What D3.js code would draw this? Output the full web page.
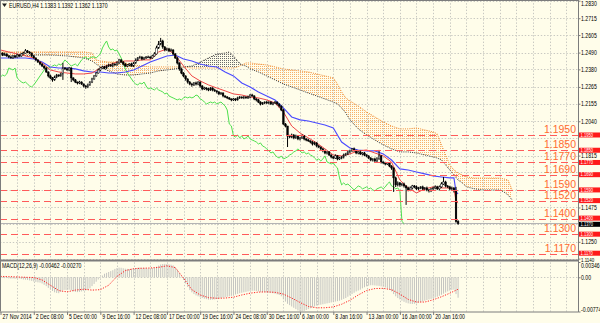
<!DOCTYPE html>
<html>
<head>
<meta charset="utf-8">
<script src="https://cdn.jsdelivr.net/npm/d3@7"></script>
<style>
  html, body { margin: 0; padding: 0; background: #fffdea; }
  svg { display: block; }
  .sm { font-family: "Liberation Sans", Arial, sans-serif; font-size: 6.3px; fill: #000; }
</style>
</head>
<body>
<svg id="chart" width="600" height="323"></svg>
<script>
// EURUSD H4 closes, one per bar (27 Nov 16:00 .. 22 Jan 16:00)
const closes = [
  1.2487,1.2474,1.2481,1.2468,1.2461,1.2455,1.2468,1.2461,1.2474,1.2468,
  1.2481,1.2487,1.2501,1.2494,1.2487,1.2468,1.2455,1.2442,1.2428,1.2415,
  1.2402,1.2389,1.2363,1.2337,1.2324,1.2311,1.2330,1.2343,1.2337,1.2350,
  1.2389,1.2383,1.2376,1.2389,1.2324,1.2311,1.2297,1.2291,1.2297,1.2284,
  1.2271,1.2265,1.2278,1.2297,1.2317,1.2337,1.2356,1.2376,1.2389,1.2396,
  1.2389,1.2402,1.2409,1.2402,1.2415,1.2409,1.2422,1.2442,1.2428,1.2415,
  1.2402,1.2409,1.2415,1.2402,1.2422,1.2442,1.2455,1.2461,1.2448,1.2455,
  1.2461,1.2461,1.2455,1.2468,1.2481,1.2520,1.2546,1.2566,1.2527,1.2507,
  1.2514,1.2501,1.2507,1.2481,1.2455,1.2422,1.2383,1.2356,1.2337,1.2317,
  1.2297,1.2284,1.2278,1.2291,1.2284,1.2297,1.2271,1.2252,1.2258,1.2252,
  1.2245,1.2258,1.2245,1.2239,1.2232,1.2219,1.2225,1.2206,1.2199,1.2193,
  1.2186,1.2180,1.2186,1.2180,1.2193,1.2199,1.2193,1.2199,1.2193,1.2199,
  1.2212,1.2206,1.2186,1.2180,1.2166,1.2153,1.2160,1.2166,1.2160,1.2166,
  1.2153,1.2160,1.2166,1.2153,1.2140,1.2114,1.2022,1.2009,1.1944,1.1937,
  1.1950,1.1931,1.1944,1.1924,1.1931,1.1944,1.1924,1.1917,1.1911,1.1904,
  1.1891,1.1898,1.1878,1.1871,1.1859,1.1846,1.1832,1.1839,1.1819,1.1806,
  1.1799,1.1813,1.1793,1.1799,1.1806,1.1819,1.1826,1.1839,1.1846,1.1859,
  1.1846,1.1832,1.1839,1.1826,1.1832,1.1819,1.1813,1.1799,1.1786,1.1793,
  1.1780,1.1793,1.1813,1.1773,1.1767,1.1760,1.1767,1.1747,1.1734,1.1669,
  1.1623,1.1636,1.1623,1.1629,1.1616,1.1603,1.1590,1.1603,1.1616,1.1610,
  1.1597,1.1603,1.1610,1.1597,1.1603,1.1590,1.1584,1.1597,1.1603,1.1610,
  1.1597,1.1610,1.1629,1.1642,1.1616,1.1610,1.1597,1.1603,1.1584,1.1383,
  1.1370
];
const firstOpen = 1.2481;
// wick lengths beyond the body, in pips
const wickUp = [
  6,4,8,3,5,7,4,6,9,5, 7,8,12,6,5,4,6,3,5,4, 6,3,5,4,8,6,9,7,5,8,
  33,6,9,7,5,4,6,3,8,5, 4,7,9,6,8,5,7,10,6,8, 7,5,9,6,8,5,12,7,5,6,
  8,6,5,9,7,10,6,8,5,7, 6,9,5,8,12,15,20,20,8,6, 9,7,10,5,6,8,4,5,6,4,
  5,7,8,6,9,5,4,6,8,5, 7,6,5,8,4,6,7,5,3,6, 5,4,6,5,8,6,4,7,5,9,
  6,8,4,5,7,5,6,4,8,5, 6,5,7,4,5,4,8,6,0,7, 9,6,8,5,7,10,6,5,8,4,
  6,9,5,7,4,6,8,5,6,4, 7,10,5,8,6,9,7,12,8,6, 9,7,5,8,6,7,5,4,6,5,
  8,12,39,6,5,7,4,6,5,4, 8,10,6,7,9,5,8,10,7,6, 9,7,5,8,6,9,7,5,8,10,
  7,9,12,33,8,6,7,9,5,26, 9
];
const wickDown = [
  5,7,4,6,8,5,6,7,4,8, 6,5,4,8,6,7,5,9,6,8, 7,9,6,10,8,12,6,8,7,5,
  39,6,5,8,27,9,7,10,8,6, 9,12,8,6,7,5,6,4,7,5, 8,6,7,5,9,6,5,8,7,9,
  6,8,9,5,7,6,8,5,9,6, 7,5,8,6,5,4,6,8,12,9, 6,8,5,9,7,10,12,8,9,11,
  10,8,12,7,9,8,11,9,7,10, 8,6,9,7,10,8,6,9,7,8, 6,9,7,8,5,7,6,8,6,7,
  9,6,8,10,7,9,6,8,7,9, 6,8,7,9,10,8,6,9,73,8, 7,9,6,8,10,7,9,8,6,9,
  10,8,9,7,11,9,8,10,7,9, 8,6,9,7,8,10,6,8,9,7, 6,8,9,7,10,8,9,7,8,10,
  9,7,5,10,8,9,7,8,12,92, 14,10,12,9,11,111,9,8,10,9, 7,9,8,10,8,9,11,8,7,9,
  8,10,7,6,9,8,10,9,11,8, 8
];

// Ichimoku Tenkan / Kijun, read every 4 bars (+ last bars)
const lineBars = d3.range(0, 217, 4).concat([218, 219, 220]);
const tenkan = [
  1.2507,1.2494,1.2481,1.2468,1.2455,1.2422,1.2376,1.2363,1.2356,1.2350,
  1.2350,1.2356,1.2389,1.2409,1.2428,1.2435,1.2435,1.2442,1.2442,1.2494,
  1.2514,1.2474,1.2402,1.2337,1.2304,1.2278,1.2258,1.2239,1.2219,1.2212,
  1.2199,1.2193,1.2180,1.2160,1.2101,1.2009,1.1963,1.1931,1.1898,1.1859,
  1.1819,1.1813,1.1826,1.1846,1.1852,1.1832,1.1813,1.1773,1.1655,1.1603,
  1.1570,1.1597,1.1610,1.1603,1.1603,1.1597,1.1518,1.1505
];
const kijun = [
  1.2455,1.2455,1.2455,1.2455,1.2448,1.2428,1.2396,1.2389,1.2389,1.2383,
  1.2370,1.2363,1.2363,1.2356,1.2356,1.2363,1.2376,1.2402,1.2428,1.2448,
  1.2468,1.2474,1.2448,1.2435,1.2415,1.2402,1.2396,1.2363,1.2337,1.2291,
  1.2265,1.2232,1.2206,1.2180,1.2127,1.2068,1.2049,1.2042,1.2029,1.2016,
  1.1996,1.1904,1.1865,1.1852,1.1846,1.1846,1.1826,1.1786,1.1728,1.1721,
  1.1708,1.1695,1.1682,1.1675,1.1669,1.1669,1.1577,1.1564
];
const chikouShift = 26;

// Senkou spans (cloud), plotted 26 bars ahead
const cloudBars = [0,8,16,24,32,40,44,46,48,52,56,60,64,68,72,76,80,84,88,92,96,100,104,
  108,110,112,114,116,118,120,124,128,132,136,140,144,148,152,156,160,162,164,166,168,
  172,176,180,184,188,192,196,200,204,208,210,212,214,216,218,220,222,224,228,232,236,240,242,244,246];
const spanA = [
  1.2474,1.2468,1.2474,1.2474,1.2468,1.2455,1.2435,1.2415,1.2396,
  1.2370,1.2350,1.2343,1.2343,1.2350,1.2356,1.2370,1.2376,1.2383,1.2396,1.2402,1.2428,1.2455,1.2481,
  1.2487,1.2494,1.2468,1.2435,1.2409,1.2402,1.2383,
  1.2363,1.2337,1.2311,1.2284,1.2265,1.2245,1.2225,1.2206,1.2186,1.2166,
  1.2153,1.2127,1.2094,1.2049,
  1.1990,1.1950,1.1917,1.1885,1.1859,1.1839,1.1839,1.1832,1.1819,1.1806,
  1.1799,1.1786,1.1754,1.1721,1.1688,1.1655,1.1636,1.1610,
  1.1597,1.1590,1.1590,1.1590,1.1577,1.1557,1.1524
];
const spanB = [
  1.2494,1.2494,1.2494,1.2494,1.2494,1.2494,1.2487,1.2442,1.2435,
  1.2428,1.2428,1.2422,1.2409,1.2402,1.2396,1.2396,1.2396,1.2396,1.2396,1.2389,1.2389,1.2389,1.2389,
  1.2389,1.2389,1.2389,1.2396,1.2409,1.2422,1.2422,
  1.2415,1.2409,1.2396,1.2383,1.2376,1.2370,1.2363,1.2350,1.2337,1.2324,
  1.2284,1.2232,1.2193,1.2173,
  1.2140,1.2101,1.2068,1.2036,1.2009,1.1990,1.1990,1.1996,1.1983,1.1970,
  1.1957,1.1885,1.1819,1.1754,1.1721,1.1701,1.1688,1.1675,
  1.1668,1.1668,1.1668,1.1668,1.1662,1.1655,1.1590
];

// MACD(12,26,9), values in units of 0.00001
const macdMain = [
  -10,-15,-20,-18,-25,-30,-28,-35,-30,-25, -40,-50,-55,-60,-70,-80,-95,-105,-115,-120,
  -140,-170,-200,-240,-280,-310,-340,-355,-360,-330, -290,-285,-290,-280,-300,-320,-330,-335,-330,-320,
  -310,-300,-285,-250,-200,-150,-100,-50,0,40, 80,100,120,140,160,190,210,220,215,205,
  195,190,185,190,200,210,215,220,215,210, 205,200,205,210,220,240,265,290,300,305,
  300,295,285,270,230,170,100,20,-60,-140, -220,-290,-340,-380,-410,-430,-450,-470,-485,-495,
  -505,-510,-505,-500,-490,-480,-470,-460,-450,-440, -430,-420,-405,-390,-375,-360,-350,-340,-330,-320,
  -310,-305,-305,-310,-320,-330,-335,-340,-345,-350, -355,-360,-370,-385,-400,-430,-500,-550,-600,-630,
  -660,-690,-720,-750,-770,-774,-760,-740,-720,-700, -680,-660,-640,-630,-620,-610,-600,-590,-580,-570,
  -560,-550,-540,-530,-510,-490,-470,-440,-410,-380, -350,-320,-300,-280,-250,-225,-205,-190,-180,-180,
  -185,-190,-195,-205,-215,-230,-245,-280,-320,-380, -430,-470,-500,-530,-555,-575,-590,-600,-605,-600,
  -590,-575,-560,-545,-530,-515,-500,-490,-475,-460, -440,-420,-395,-370,-345,-320,-300,-285,-280,-380,
  -462
];
const signalBars = d3.range(0, 221, 4);
const macdSignal = [
  20,15,8,0,-5,-60,-180,-300,-330,-290,-270,-290,-280,-180,20,150,195,205,210,225,
  260,220,-20,-280,-400,-460,-475,-470,-450,-400,-360,-335,-330,-340,-380,-470,-570,-660,-690,-690,
  -670,-610,-520,-400,-300,-255,-250,-280,-380,-500,-560,-560,-510,-440,-360,-270
];
const MACD_UNIT = 1e-5;

const levels = [1.1950, 1.1850, 1.1770, 1.1690, 1.1590, 1.1520, 1.1400, 1.1300, 1.1170];
const lastPrice = 1.1370;
const priceTicks = [1.2830, 1.2715, 1.2605, 1.2490, 1.2380, 1.2265, 1.2155, 1.2040,
  1.1930, 1.1815, 1.1705, 1.1590, 1.1475, 1.1365, 1.1250, 1.1140];
const macdTicks = [0.00346, 0, -0.00774];
const timeBars = d3.range(0, 209, 16);
const timeLabels = ['27 Nov 2014', '2 Dec 08:00', '5 Dec 00:00', '9 Dec 16:00', '12 Dec 08:00',
  '17 Dec 00:00', '19 Dec 16:00', '24 Dec 08:00', '30 Dec 16:00', '6 Jan 00:00', '8 Jan 16:00',
  '13 Jan 00:00', '16 Jan 00:00', '20 Jan 16:00'];
const title = 'EURUSD,H4  1.1383 1.1392 1.1362 1.1370';
const macdTitle = 'MACD(12,26,9) -0.00462 -0.00270';

// ---- layout ----
const svg = d3.select('#chart');
const plotR = 578.5;
const mainBottom = 259.5;
const macdTop = 262, macdBottom = 311.5;
const PIP = 0.0001;
const NARROW = 0.82;

const x = d3.scaleLinear().domain([0, 278]).range([0.5, 0.5 + 2.08 * 278]);
const y = d3.scaleLinear().domain([1.1140, 1.2830]).range([258.6, 0.7]);
const ym = d3.scaleLinear().domain([-0.00774, 0.00346]).range([macdBottom, macdTop]);

svg.append('rect').attr('width', 600).attr('height', 323).attr('fill', '#fffdea');

const defs = svg.append('defs');
defs.append('clipPath').attr('id', 'clipMain')
  .append('rect').attr('x', 0).attr('y', 0).attr('width', plotR).attr('height', mainBottom);
defs.append('clipPath').attr('id', 'clipMacd')
  .append('rect').attr('x', 0).attr('y', macdTop - 1).attr('width', plotR).attr('height', macdBottom - macdTop + 1);

function dotPattern(id, color) {
  const p = defs.append('pattern').attr('id', id)
    .attr('patternUnits', 'userSpaceOnUse')
    .attr('x', 0).attr('y', 0).attr('width', 2).attr('height', 2);
  p.append('rect').attr('width', 1).attr('height', 1).attr('fill', color);
}
dotPattern('hatchOrange', '#f7b06a');
dotPattern('hatchGray', '#6a6a6a');

// grid
const grid = svg.append('g');
const gridBars = d3.range(8, 279, 8);
grid.selectAll('line.v').data(gridBars).join('line')
  .attr('x1', d => Math.round(x(d)) + 0.5).attr('x2', d => Math.round(x(d)) + 0.5)
  .attr('y1', 0).attr('y2', macdBottom)
  .attr('stroke', '#c9c9c2').attr('stroke-dasharray', '1.4,1.8');
grid.selectAll('line.h').data(priceTicks).join('line')
  .attr('x1', 0).attr('x2', plotR)
  .attr('y1', d => Math.round(y(d)) + 0.5).attr('y2', d => Math.round(y(d)) + 0.5)
  .attr('stroke', '#c9c9c2').attr('stroke-dasharray', '1.4,1.8');
grid.append('line')
  .attr('x1', 0).attr('x2', plotR).attr('y1', Math.round(ym(0)) + 0.5).attr('y2', Math.round(ym(0)) + 0.5)
  .attr('stroke', '#c9c9c2').attr('stroke-dasharray', '1.4,1.8');

// ---- main panel ----
const main = svg.append('g').attr('clip-path', 'url(#clipMain)');

const cloud = cloudBars.map((b, i) => ({ b, a: spanA[i], s: spanB[i] }));
const between = d3.area().x(d => x(d.b)).y0(d => y(d.a)).y1(d => y(d.s));
defs.append('clipPath').attr('id', 'aboveA')
  .append('path').attr('d', d3.area().x(d => x(d.b)).y0(0).y1(d => y(d.a))(cloud));
defs.append('clipPath').attr('id', 'belowA')
  .append('path').attr('d', d3.area().x(d => x(d.b)).y0(d => y(d.a)).y1(mainBottom)(cloud));
main.append('path').attr('d', between(cloud)).attr('fill', 'url(#hatchOrange)').attr('clip-path', 'url(#aboveA)');
main.append('path').attr('d', between(cloud)).attr('fill', 'url(#hatchGray)').attr('clip-path', 'url(#belowA)');

const cloudLine = key => d3.line().x(d => x(d.b)).y(d => y(d[key]));
main.append('path').attr('d', cloudLine('s')(cloud)).attr('fill', 'none')
  .attr('stroke', '#f08a30').attr('stroke-width', 1).attr('stroke-dasharray', '1,1.2');
main.append('path').attr('d', cloudLine('a')(cloud)).attr('fill', 'none')
  .attr('stroke', '#3a3a3a').attr('stroke-width', 1).attr('stroke-dasharray', '1,1.2');

// current price line
main.append('line').attr('x1', 0).attr('x2', plotR)
  .attr('y1', y(lastPrice)).attr('y2', y(lastPrice))
  .attr('stroke', '#b4b4b4').attr('stroke-width', 1);

// chikou, kijun, tenkan
const seriesLine = d3.line().x(d => x(d[0])).y(d => y(d[1]));
const chikou = closes.slice(chikouShift).map((c, i) => [i, c]);
main.append('path').attr('d', seriesLine(chikou)).attr('fill', 'none')
  .attr('stroke', '#4ee04e').attr('stroke-width', 1);
main.append('path').attr('d', seriesLine(lineBars.map((b, i) => [b, kijun[i]]))).attr('fill', 'none')
  .attr('stroke', '#4a4aff').attr('stroke-width', 1.1);
main.append('path').attr('d', seriesLine(lineBars.map((b, i) => [b, tenkan[i]]))).attr('fill', 'none')
  .attr('stroke', '#f04848').attr('stroke-width', 1);

// candles
const candles = closes.map((c, i) => {
  const o = i ? closes[i - 1] : firstOpen;
  return { i, o, c, h: Math.max(o, c) + wickUp[i] * PIP, l: Math.min(o, c) - wickDown[i] * PIP };
});
main.selectAll('line.wick').data(candles).join('line')
  .attr('x1', d => x(d.i)).attr('x2', d => x(d.i))
  .attr('y1', d => y(d.h)).attr('y2', d => y(d.l))
  .attr('stroke', '#000').attr('stroke-width', 1);
main.selectAll('rect.body').data(candles).join('rect')
  .attr('x', d => x(d.i) - 0.8).attr('width', 1.6)
  .attr('y', d => y(Math.max(d.o, d.c)))
  .attr('height', d => Math.max(0.8, Math.abs(y(d.o) - y(d.c))))
  .attr('fill', d => d.c >= d.o ? '#ffffff' : '#000')
  .attr('stroke', '#000').attr('stroke-width', 0.5);

// horizontal levels
main.selectAll('line.level').data(levels).join('line')
  .attr('x1', 0).attr('x2', plotR)
  .attr('y1', d => Math.round(y(d)) + 0.5).attr('y2', d => Math.round(y(d)) + 0.5)
  .attr('stroke', '#ff5a5a').attr('stroke-width', 1).attr('stroke-dasharray', '7,4');
svg.selectAll('text.level').data(levels).join('text')
  .attr('x', 576).attr('y', d => Math.round(y(d)) - 2)
  .attr('text-anchor', 'end')
  .style('font-family', '"Liberation Sans", Arial, sans-serif')
  .style('font-size', '10.5px')
  .attr('fill', '#ff6a30')
  .text(d => d.toFixed(4));

// ---- MACD panel ----
const macd = svg.append('g').attr('clip-path', 'url(#clipMacd)');
macd.selectAll('line.hist').data(macdMain).join('line')
  .attr('x1', (d, i) => x(i)).attr('x2', (d, i) => x(i))
  .attr('y1', ym(0)).attr('y2', d => ym(d * MACD_UNIT))
  .attr('stroke', '#c4c4c0').attr('stroke-width', 1);
macd.append('path')
  .attr('d', d3.line().x((d, i) => x(signalBars[i])).y(d => ym(d * MACD_UNIT))(macdSignal))
  .attr('fill', 'none').attr('stroke', '#ff2020').attr('stroke-width', 1)
  .attr('stroke-dasharray', '1.2,1.4');

// ---- frames ----
const frame = svg.append('g').attr('stroke', '#7c7c7c').attr('fill', 'none');
frame.append('line').attr('x1', 0).attr('x2', plotR).attr('y1', 0.5).attr('y2', 0.5);
frame.append('line').attr('x1', 0.5).attr('x2', 0.5).attr('y1', 0).attr('y2', macdBottom);
frame.append('line').attr('x1', plotR).attr('x2', plotR).attr('y1', 0).attr('y2', macdBottom + 0.5);
frame.append('line').attr('x1', 0).attr('x2', plotR).attr('y1', 260.5).attr('y2', 260.5).attr('stroke-width', 2);
frame.append('line').attr('x1', 0).attr('x2', plotR).attr('y1', macdBottom + 0.5).attr('y2', macdBottom + 0.5);

// ---- axes ----
// tick labels that sit under an axis tag are hidden, as on the terminal
const tagged = levels.concat([lastPrice]);
const visibleTicks = priceTicks.filter(t => !tagged.some(v => Math.abs(y(v) - y(t)) < 4.5));
const lastTick = priceTicks[priceTicks.length - 1];
const yAxisG = svg.append('g').attr('transform', `translate(${plotR},0)`)
  .call(d3.axisRight(y).tickValues(visibleTicks).tickFormat(d3.format('.4f')).tickSize(2).tickPadding(1));
yAxisG.select('.domain').remove();
yAxisG.selectAll('line').attr('stroke', '#7c7c7c');
yAxisG.selectAll('text').attr('class', 'sm').attr('x', 2.5 / NARROW)
  .attr('transform', `scale(${NARROW},1)`)
  .attr('y', d => d === priceTicks[0] ? 2.5 : (d === lastTick ? 0.9 : 0))
  .style('font-size', d => d === lastTick ? '5.4px' : null);

const macdAxisG = svg.append('g').attr('transform', `translate(${plotR},0)`)
  .call(d3.axisRight(ym).tickValues(macdTicks)
    .tickFormat(d => d === 0 ? '0.00' : d.toFixed(5)).tickSize(2).tickPadding(1));
macdAxisG.select('.domain').remove();
macdAxisG.selectAll('line').attr('stroke', '#7c7c7c');
macdAxisG.selectAll('text').attr('class', 'sm').attr('x', 2.5 / NARROW)
  .attr('transform', `scale(${NARROW},1)`)
  .attr('y', (d, i) => [3, 0, -2][i]);

const xAxisG = svg.append('g').attr('transform', `translate(0,${macdBottom + 0.5})`)
  .call(d3.axisBottom(x).tickValues(timeBars).tickFormat((d, i) => timeLabels[i]).tickSize(3).tickPadding(1));
xAxisG.select('.domain').remove();
xAxisG.selectAll('line').attr('stroke', '#7c7c7c');
xAxisG.selectAll('text').attr('class', 'sm')
  .attr('text-anchor', 'start').attr('dy', 0).attr('y', 7.5)
  .attr('x', 1.5 / NARROW).attr('transform', `scale(${NARROW},1)`);

// price tags on the axis
function tag(v, fill, shift) {
  const yy = y(v) + shift;
  svg.append('rect').attr('x', 579).attr('y', yy - 2.5).attr('width', 21).attr('height', 5).attr('fill', fill);
  svg.append('text').attr('class', 'sm')
    .attr('transform', `translate(580.5,${yy + 1.8}) scale(${NARROW},1)`)
    .style('font-size', '5px').style('fill', '#fff')
    .text(v.toFixed(4));
}
levels.forEach(v => tag(v, '#ff1a1a', v === 1.1400 ? -0.8 : (v === 1.1170 ? -0.8 : 0)));
tag(lastPrice, '#000', 0.8);

// titles
svg.append('path').attr('d', 'M2,3.5 L7,3.5 L4.5,7 Z').attr('fill', '#222');
svg.append('text').attr('class', 'sm')
  .attr('transform', `translate(9,7.8) scale(${NARROW},1)`).text(title);
svg.append('text').attr('class', 'sm')
  .attr('transform', `translate(2,267.5) scale(${NARROW},1)`).text(macdTitle);
</script>
</body>
</html>
